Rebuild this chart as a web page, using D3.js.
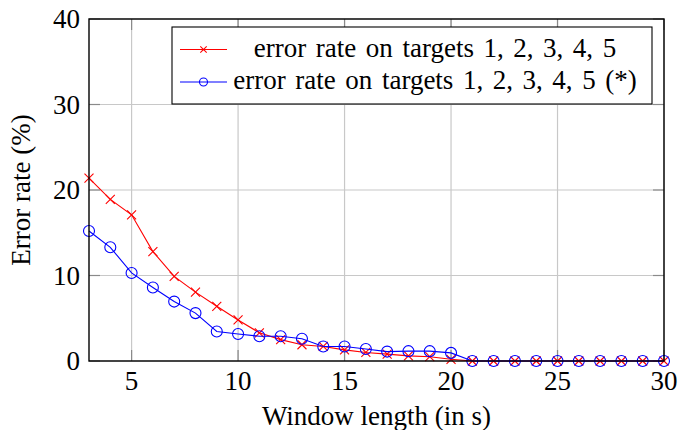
<!DOCTYPE html>
<html>
<head>
<meta charset="utf-8">
<script src="https://cdn.jsdelivr.net/npm/d3@7/dist/d3.min.js"></script>
</head>
<body style="margin:0">
<svg id="chart" width="678" height="430" style="display:block"></svg>
<script>
const windowLengths = [3,4,5,6,7,8,9,10,11,12,13,14,15,16,17,18,19,20,21,22,23,24,25,26,27,28,29,30];
const errorRate = [21.4,18.9,17.1,12.8,9.9,8.05,6.4,4.8,3.3,2.5,1.9,1.7,1.3,1.0,0.8,0.6,0.5,0.2,0,0,0,0,0,0,0,0,0,0];
const errorRateStar = [15.2,13.3,10.3,8.6,6.95,5.6,3.45,3.15,2.9,2.9,2.6,1.7,1.7,1.4,1.1,1.15,1.15,0.95,0,0,0,0,0,0,0,0,0,0];
const xTicks = [5,10,15,20,25,30];
const yTicks = [0,10,20,30,40];
const seriesNames = ["error rate on targets 1, 2, 3, 4, 5", "error rate on targets 1, 2, 3, 4, 5 (*)"];
const xLabel = "Window length (in s)";
const yLabel = "Error rate (%)";

const FONT = '"Liberation Serif", "Times New Roman", Tinos, Times, FreeSerif';
const svg = d3.select("#chart").style("font-family", FONT);
const L = 89, R = 664, T = 19, B = 361;
const x = d3.scaleLinear().domain([3, 30]).range([L, R]);
const y = d3.scaleLinear().domain([0, 40]).range([B, T]);
const fs = 27;

function txt(sel) {
  return sel.append("text").style("font-family", FONT).attr("font-family", FONT)
    .attr("font-size", fs).attr("fill", "#000");
}

// grid
const g = svg.append("g");
g.selectAll(".gx").data(xTicks).enter().append("line")
  .attr("x1", d => x(d)).attr("x2", d => x(d)).attr("y1", T).attr("y2", B)
  .attr("stroke", "#c8c8c8").attr("stroke-width", 1.2);
g.selectAll(".gy").data(yTicks).enter().append("line")
  .attr("x1", L).attr("x2", R).attr("y1", d => y(d)).attr("y2", d => y(d))
  .attr("stroke", "#c8c8c8").attr("stroke-width", 1.2);

// ticks (inside, all sides)
const tl = 11, tc = "#8a8a8a";
xTicks.forEach(d => {
  g.append("line").attr("x1", x(d)).attr("x2", x(d)).attr("y1", B).attr("y2", B - tl).attr("stroke", tc).attr("stroke-width", 1.2);
  g.append("line").attr("x1", x(d)).attr("x2", x(d)).attr("y1", T).attr("y2", T + tl).attr("stroke", tc).attr("stroke-width", 1.2);
});
yTicks.forEach(d => {
  g.append("line").attr("x1", L).attr("x2", L + tl).attr("y1", y(d)).attr("y2", y(d)).attr("stroke", tc).attr("stroke-width", 1.2);
  g.append("line").attr("x1", R).attr("x2", R - tl).attr("y1", y(d)).attr("y2", y(d)).attr("stroke", tc).attr("stroke-width", 1.2);
});

// tick labels
xTicks.forEach(d => txt(svg).attr("x", x(d)).attr("y", 390).attr("text-anchor", "middle").text(d));
yTicks.forEach(d => txt(svg).attr("x", 80).attr("y", y(d) + 9.3).attr("text-anchor", "end").text(d));

// axis labels
txt(svg).attr("x", (L + R) / 2).attr("y", 425).attr("text-anchor", "middle").text(xLabel);
txt(svg).attr("transform", `translate(30,${(T + B) / 2}) rotate(-90)`).attr("text-anchor", "middle").text(yLabel);

// lines
const line = d3.line().x((d, i) => x(windowLengths[i])).y(d => y(d));
const plot = svg.append("g");
function cross(sel, cx, cy, s, col) {
  sel.append("path").attr("d", `M${cx - s},${cy - s}L${cx + s},${cy + s}M${cx - s},${cy + s}L${cx + s},${cy - s}`)
    .attr("stroke", col).attr("stroke-width", 1.1).attr("fill", "none");
}
plot.append("path").datum(errorRate).attr("d", line).attr("fill", "none").attr("stroke", "#ff0000").attr("stroke-width", 1.1);
errorRate.forEach((v, i) => cross(plot, x(windowLengths[i]), y(v), 4.5, "#ff0000"));
plot.append("path").datum(errorRateStar).attr("d", line).attr("fill", "none").attr("stroke", "#0000ff").attr("stroke-width", 1.1);
plot.selectAll(".c").data(errorRateStar).enter().append("circle")
  .attr("cx", (d, i) => x(windowLengths[i])).attr("cy", d => y(d)).attr("r", 5.5)
  .attr("fill", "none").attr("stroke", "#0000ff").attr("stroke-width", 1.1);

// frame
svg.append("rect").attr("x", L).attr("y", T).attr("width", R - L).attr("height", B - T)
  .attr("fill", "none").attr("stroke", "#000").attr("stroke-width", 1.4);

// legend
const lg = svg.append("g");
lg.append("rect").attr("x", 172).attr("y", 27).attr("width", 480).attr("height", 77)
  .attr("fill", "#fff").attr("stroke", "#000").attr("stroke-width", 1.1);
const rowsY = [49.5, 82];
const cols = ["#ff0000", "#0000ff"];
rowsY.forEach((ry, i) => {
  lg.append("line").attr("x1", 180).attr("x2", 227).attr("y1", ry).attr("y2", ry)
    .attr("stroke", cols[i]).attr("stroke-width", 1.1);
  if (i === 0) cross(lg, 203.5, ry, 3.2, cols[0]);
  else lg.append("circle").attr("cx", 203.5).attr("cy", ry).attr("r", 4)
    .attr("fill", "none").attr("stroke", cols[1]).attr("stroke-width", 1.1);
  txt(lg).attr("x", 435).attr("y", ry + 7).attr("text-anchor", "middle")
    .attr("word-spacing", 2.8).text(seriesNames[i]);
});
</script>
</body>
</html>
